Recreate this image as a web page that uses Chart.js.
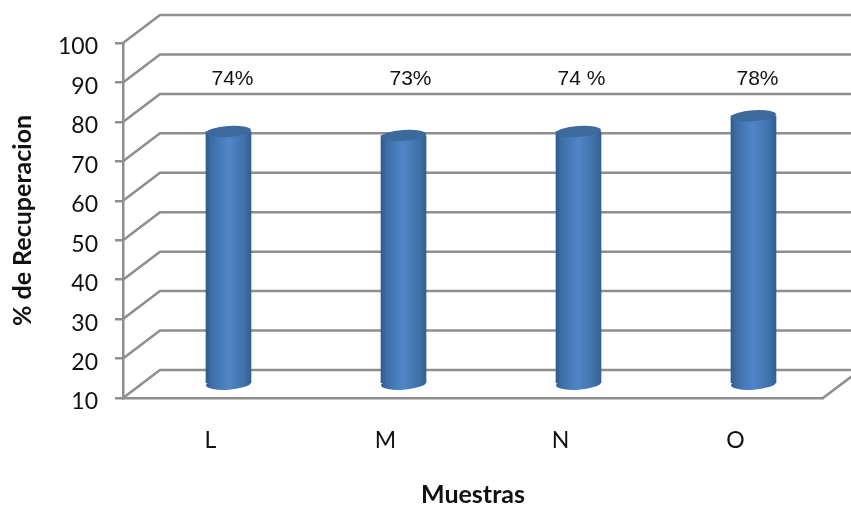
<!DOCTYPE html>
<html>
<head>
<meta charset="utf-8">
<title>% de Recuperacion</title>
<script src="https://cdn.jsdelivr.net/npm/chart.js@4"></script>
<style>
  html, body { margin: 0; padding: 0; background: #fff; }
  canvas { display: block; }
</style>
</head>
<body>
<canvas id="chart" width="851" height="506"></canvas>
<script>
// data
const categories = ["L", "M", "N", "O"];
const recuperacion = [74, 73, 74, 78];
const barLabels = ["74%", "73%", "74 %", "78%"];
const yTicks = [10, 20, 30, 40, 50, 60, 70, 80, 90, 100];

// fake 3D depth of the wall and floor
const depthX = 37;
const depthY = -28;
const gridColor = "#8e8e8e";
const barWidth = 45;
// the labels were hand placed in the original, not quite centred
const labelShift = [22, 25, 21, 22];

function barGradient(c) {
  const x = c.chart.scales.x ? c.chart.scales.x.getPixelForValue(c.dataIndex) : NaN;
  if (!Number.isFinite(x)) return "#4a7ebb";  // scales not laid out yet
  const g = c.chart.ctx.createLinearGradient(x - barWidth / 2, 0, x + barWidth / 2, 0);
  g.addColorStop(0, "#2f5a8c");
  g.addColorStop(0.12, "#3d6ea8");
  g.addColorStop(0.5, "#5086c8");
  g.addColorStop(0.85, "#3f70aa");
  g.addColorStop(1, "#34608f");
  return g;
}

// back wall, floor and side wall lines
const wallPlugin = {
  id: "wall",
  beforeDatasetsDraw(chart) {
    const { ctx, scales, chartArea } = chart;
    ctx.save();
    ctx.strokeStyle = gridColor;
    ctx.lineWidth = 2.5;
    yTicks.forEach(t => {
      const y = scales.y.getPixelForValue(t);
      ctx.beginPath();
      ctx.moveTo(chartArea.left, y);
      ctx.lineTo(chartArea.left + depthX, y + depthY);
      ctx.lineTo(chart.width, y + depthY);
      ctx.stroke();
    });
    const floor = scales.y.getPixelForValue(yTicks[0]);
    ctx.beginPath();
    ctx.moveTo(chartArea.right, floor);
    ctx.lineTo(chartArea.right + depthX, floor + depthY);
    ctx.stroke();
    ctx.restore();
  },
  // bars stand in the middle of the floor depth, so shift them back
  beforeDatasetDraw(chart) {
    const { ctx } = chart;
    ctx.save();
    ctx.translate(depthX / 2 - 0.5, depthY / 2);
    chart.getDatasetMeta(0).data.forEach((bar, i) => {
      ctx.fillStyle = barGradient({ chart, dataIndex: i });
      ctx.beginPath();
      ctx.ellipse(bar.x, bar.base + 1, barWidth / 2, 6, -0.07, 0, Math.PI * 2);
      ctx.fill();
    });
  },
  afterDatasetDraw(chart) {
    const { ctx } = chart;
    chart.getDatasetMeta(0).data.forEach(bar => {
      ctx.fillStyle = "#3c6a9c";
      ctx.beginPath();
      ctx.ellipse(bar.x, bar.y, barWidth / 2, 5.5, -0.07, 0, Math.PI * 2);
      ctx.fill();
    });
    ctx.restore();
  },
  afterDatasetsDraw(chart) {
    const { ctx, scales } = chart;
    ctx.save();
    ctx.fillStyle = "#111";
    ctx.font = '21px "Liberation Sans"';
    ctx.textAlign = "center";
    ctx.textBaseline = "middle";
    barLabels.forEach((txt, i) => {
      ctx.fillText(txt, scales.x.getPixelForValue(i) + labelShift[i], scales.y.getPixelForValue(90.9));
    });
    ctx.restore();
  }
};

new Chart(document.getElementById("chart"), {
  type: "bar",
  data: {
    labels: categories,
    datasets: [{
      data: recuperacion,
      base: 10,
      backgroundColor: barGradient,
      hoverBackgroundColor: barGradient,
      borderWidth: 0,
      barThickness: barWidth,
      clip: false
    }]
  },
  plugins: [wallPlugin],
  options: {
    responsive: false,
    animation: false,
    layout: { padding: { top: 43, right: 28, bottom: 0, left: 0 } },
    plugins: { legend: { display: false }, tooltip: { enabled: false } },
    scales: {
      x: {
        afterFit(s) { s.height = 108; },
        grid: { display: false },
        border: { display: true, color: gridColor, width: 2.5 },
        ticks: { color: "#111", font: { family: "Lato", size: 23 }, padding: 21, maxRotation: 0 },
        title: {
          display: true,
          text: "Muestras",
          color: "#111",
          font: { family: "Lato", size: 25, weight: "bold" },
          padding: { top: 24, bottom: -4 }
        }
      },
      y: {
        min: 10,
        max: 100,
        afterFit(s) { s.width = 123; },
        grid: { drawOnChartArea: false, drawTicks: true, tickLength: 8, color: gridColor, lineWidth: 2.5 },
        border: { display: true, color: gridColor, width: 2.5 },
        ticks: { stepSize: 10, color: "#111", font: { family: "Lato", size: 23 }, padding: 17, labelOffset: 4 },
        title: {
          display: true,
          text: "% de Recuperacion",
          color: "#111",
          font: { family: "Lato", size: 25, weight: "bold" },
          padding: { top: 8, bottom: 0 }
        }
      }
    }
  }
});
</script>
</body>
</html>
